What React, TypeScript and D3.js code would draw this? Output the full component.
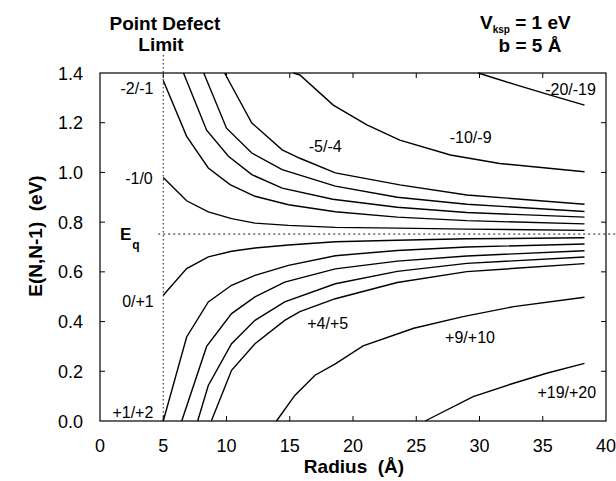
import React, { useEffect, useRef } from 'react';
import * as d3 from 'd3';

// axis ticks
const xTicks = [0, 5, 10, 15, 20, 25, 30, 35, 40];
const yTicks = [0, 0.2, 0.4, 0.6, 0.8, 1.0, 1.2, 1.4];

// reference levels
const eqLevel = 0.752;
const pointDefectRadius = 5;

// upper branch, [radius, energy]
const curveM1_0 = [[5, 0.98], [6.85, 0.886], [8.56, 0.841], [10.4, 0.814], [12.25, 0.796], [14.9, 0.787], [18.6, 0.779], [23.5, 0.776], [29, 0.772], [38.3, 0.767]];
const curveM2_M1 = [[5, 1.37], [6.85, 1.145], [8.56, 1.018], [10.28, 0.951], [12.25, 0.904], [14.9, 0.87], [18.6, 0.842], [23.5, 0.82], [29, 0.806], [38.3, 0.793]];
const curveM3_M2 = [[6.6, 1.4], [8.43, 1.17], [10.15, 1.065], [12.0, 0.991], [14.4, 0.937], [18.4, 0.892], [23.5, 0.86], [29, 0.839], [38.3, 0.82]];
const curveM4_M3 = [[8.2, 1.4], [10.0, 1.178], [12.0, 1.078], [14.4, 1.011], [18.6, 0.945], [23.5, 0.9], [29, 0.872], [38.3, 0.843]];
const curveM5_M4 = [[9.85, 1.4], [12.0, 1.199], [14.4, 1.091], [15.8, 1.057], [18.6, 0.998], [23.7, 0.95], [29, 0.909], [38.3, 0.872]];
const curveM10_M9 = [[15.3, 1.4], [15.8, 1.392], [18.44, 1.271], [21.1, 1.191], [23.7, 1.13], [27.7, 1.07], [31.6, 1.036], [38.3, 1.003]];
const curveM20_M19 = [[29.9, 1.4], [32.9, 1.352], [35.6, 1.311], [38.3, 1.271]];

// lower branch, [radius, energy]
const curve0_P1 = [[5, 0.506], [6.85, 0.613], [8.56, 0.66], [10.4, 0.683], [12.25, 0.696], [14.9, 0.708], [18.6, 0.721], [23.5, 0.727], [29, 0.733], [38.3, 0.737]];
const curveP1_P2 = [[5, 0], [6.85, 0.338], [8.56, 0.479], [10.4, 0.546], [12.25, 0.586], [14.9, 0.626], [18.6, 0.665], [23.5, 0.686], [29, 0.7], [38.3, 0.712]];
const curveP2_P3 = [[6.46, 0], [8.43, 0.3], [10.4, 0.432], [12.25, 0.499], [14.6, 0.559], [18.6, 0.612], [23.5, 0.643], [29, 0.664], [38.3, 0.685]];
const curveP3_P4 = [[7.72, 0], [8.56, 0.143], [10.4, 0.311], [12.25, 0.405], [14.6, 0.479], [18.6, 0.552], [23.5, 0.602], [29, 0.634], [38.3, 0.66]];
const curveP4_P5 = [[8.8, 0], [10.4, 0.204], [12.25, 0.311], [14.6, 0.405], [15.8, 0.44], [18.6, 0.492], [23.5, 0.557], [29, 0.601], [38.3, 0.633]];
const curveP9_P10 = [[13.95, 0], [15.4, 0.103], [17.0, 0.184], [18.6, 0.23], [20.8, 0.302], [24.8, 0.373], [28.7, 0.42], [32.7, 0.46], [38.3, 0.498]];
const curveP19_P20 = [[25.7, 0], [29.5, 0.098], [32.7, 0.152], [35.3, 0.192], [38.3, 0.232]];

const allCurves = [
  curveM1_0, curveM2_M1, curveM3_M2, curveM4_M3, curveM5_M4, curveM10_M9, curveM20_M19,
  curve0_P1, curveP1_P2, curveP2_P3, curveP3_P4, curveP4_P5, curveP9_P10, curveP19_P20,
];

// curve labels: text, radius, energy (baseline)
const curveLabels = ['-2/-1', '-1/0', '0/+1', '+1/+2', '-5/-4', '-10/-9', '-20/-19', '+4/+5', '+9/+10', '+19/+20'];
const labelRadius = [2.92, 3.08, 3.0, 2.6, 17.8, 29.3, 37.2, 18.0, 29.25, 36.9];
const labelEnergy = [1.315, 0.953, 0.459, 0.012, 1.082, 1.118, 1.311, 0.37, 0.314, 0.093];

const FONT = '"Liberation Sans", Arial, Helvetica, sans-serif';

const App = () => {
  const ref = useRef<SVGSVGElement>(null);

  useEffect(() => {
    const svg = d3.select(ref.current);
    svg.selectAll('*').remove();

    const left = 100, right = 606, top = 73, bottom = 421;
    const x = d3.scaleLinear().domain([0, 40]).range([left, right]);
    const y = d3.scaleLinear().domain([0, 1.4]).range([bottom, top]);

    const g = svg.append('g').attr('font-family', FONT).attr('fill', '#000');

    // frame
    g.append('rect')
      .attr('x', left).attr('y', top)
      .attr('width', right - left).attr('height', bottom - top)
      .attr('fill', 'none').attr('stroke', '#000').attr('stroke-width', 1.2);

    // inward ticks on all sides
    const tl = 5;
    xTicks.slice(1, -1).forEach(t => {
      g.append('line').attr('x1', x(t)).attr('x2', x(t)).attr('y1', bottom).attr('y2', bottom - tl).attr('stroke', '#000');
      g.append('line').attr('x1', x(t)).attr('x2', x(t)).attr('y1', top).attr('y2', top + tl).attr('stroke', '#000');
    });
    yTicks.slice(1, -1).forEach(t => {
      g.append('line').attr('x1', left).attr('x2', left + tl).attr('y1', y(t)).attr('y2', y(t)).attr('stroke', '#000');
      g.append('line').attr('x1', right).attr('x2', right - tl).attr('y1', y(t)).attr('y2', y(t)).attr('stroke', '#000');
    });

    // tick labels
    g.selectAll('.xl').data(xTicks).enter().append('text')
      .attr('x', d => x(d)).attr('y', 452)
      .attr('text-anchor', 'middle').attr('font-size', 18)
      .text(d => d3.format('d')(d));
    g.selectAll('.yl').data(yTicks).enter().append('text')
      .attr('x', 83).attr('y', d => y(d) + 6.5)
      .attr('text-anchor', 'end').attr('font-size', 18)
      .text(d => d3.format('.1f')(d));

    // reference dotted lines
    g.append('line')
      .attr('x1', x(pointDefectRadius)).attr('x2', x(pointDefectRadius))
      .attr('y1', 55).attr('y2', bottom)
      .attr('stroke', '#000').attr('stroke-width', 0.9).attr('stroke-dasharray', '1.5,2.5');
    g.append('line')
      .attr('x1', x(4.6)).attr('x2', 616)
      .attr('y1', y(eqLevel)).attr('y2', y(eqLevel))
      .attr('stroke', '#000').attr('stroke-width', 0.9).attr('stroke-dasharray', '2,3');

    // curves
    const line = d3.line<number[]>().x(d => x(d[0])).y(d => y(d[1]));
    g.selectAll('.curve').data(allCurves).enter().append('path')
      .attr('d', d => line(d as number[][]))
      .attr('fill', 'none').attr('stroke', '#000').attr('stroke-width', 1.4);

    // curve labels
    curveLabels.forEach((t, i) => {
      g.append('text')
        .attr('x', x(labelRadius[i])).attr('y', y(labelEnergy[i]))
        .attr('text-anchor', 'middle').attr('font-size', 16)
        .text(t);
    });

    // E_q
    const eqText = g.append('text').attr('x', 120).attr('y', 240).attr('font-weight', 'bold').attr('font-size', 17);
    eqText.append('tspan').text('E');
    eqText.append('tspan').attr('font-size', 12).attr('dx', 1).attr('dy', 9).text('q');

    // titles
    g.append('text').attr('x', 165).attr('y', 30).attr('text-anchor', 'middle')
      .attr('font-weight', 'bold').attr('font-size', 19).text('Point Defect');
    g.append('text').attr('x', 161).attr('y', 51).attr('text-anchor', 'middle')
      .attr('font-weight', 'bold').attr('font-size', 19).text('Limit');

    const vt = g.append('text').attr('x', 480).attr('y', 29).attr('font-weight', 'bold').attr('font-size', 19);
    vt.append('tspan').text('V');
    vt.append('tspan').attr('font-size', 10).attr('dy', 4).text('ksp');
    vt.append('tspan').attr('dy', -4).text(' = 1 eV');
    g.append('text').attr('x', 530).attr('y', 52).attr('text-anchor', 'middle')
      .attr('font-weight', 'bold').attr('font-size', 19).text('b = 5 Å');

    // axis titles
    g.append('text').attr('x', 354).attr('y', 473).attr('text-anchor', 'middle')
      .attr('font-weight', 'bold').attr('font-size', 19)
      .style('white-space', 'pre')
      .text('Radius  (Å)');
    g.append('text')
      .attr('transform', 'translate(42,236) rotate(-90)')
      .attr('text-anchor', 'middle')
      .attr('font-weight', 'bold').attr('font-size', 19)
      .style('white-space', 'pre')
      .text('E(N,N-1)  (eV)');
  }, []);

  return (
    <svg ref={ref} width={616} height={481}
      style={{ position: 'absolute', left: 0, top: 0, background: '#fff' }} />
  );
};

export default App;
